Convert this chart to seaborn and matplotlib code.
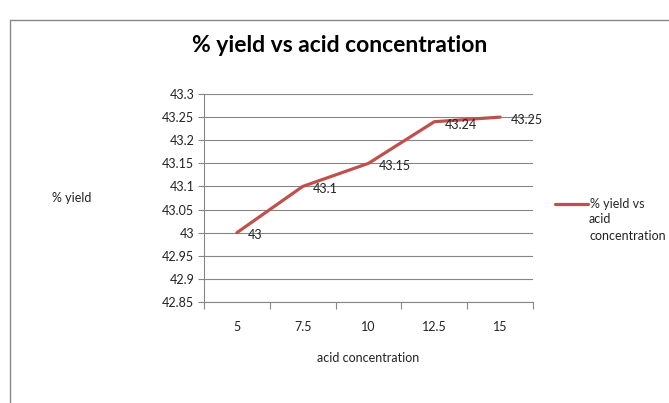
import numpy as np
import pandas as pd
import matplotlib.pyplot as plt
from matplotlib.lines import Line2D
from matplotlib.ticker import FixedLocator
import seaborn as sns

# data
concentration = ["5", "7.5", "10", "12.5", "15"]
yield_pct = [43.0, 43.1, 43.15, 43.24, 43.25]
point_labels = ["43", "43.1", "43.15", "43.24", "43.25"]
y_ticks = [42.85, 42.9, 42.95, 43.0, 43.05, 43.1, 43.15, 43.2, 43.25, 43.3]
y_tick_labels = ["42.85", "42.9", "42.95", "43", "43.05", "43.1", "43.15", "43.2", "43.25", "43.3"]

sns.set_theme(style="white")
plt.rcParams['font.family'] = ['Lato', 'DejaVu Sans']

df = pd.DataFrame({"pos": np.arange(len(concentration)), "yield": yield_pct})

W, H = 669, 403
fig = plt.figure(figsize=(W / 100, H / 100), dpi=100)
fig.patch.set_facecolor("white")

# plot area in pixel coords: x 204..533, y 94..302
ax = fig.add_axes([204 / W, 1 - 302 / H, (533 - 204) / W, (302 - 94) / H])

line_color = "#C0504D"
txt_color = "#222222"
fs = 9
sns.lineplot(data=df, x="pos", y="yield", color=line_color, linewidth=2.3, ax=ax, legend=False)

for i in range(len(concentration)):
    ax.annotate(point_labels[i], (df["pos"][i], df["yield"][i]), xytext=(7.5, -2),
                textcoords="offset points", ha="left", va="center", fontsize=fs, color=txt_color)

ax.set_xlim(-0.5, len(concentration) - 0.5)
ax.set_ylim(42.85, 43.3)
ax.set_yticks(y_ticks)
ax.set_yticklabels(y_tick_labels)
ax.set_xticks(np.arange(len(concentration)))
ax.set_xticklabels(concentration)
ax.xaxis.set_minor_locator(FixedLocator(np.arange(len(concentration) + 1) - 0.5))
ax.tick_params(axis="x", which="major", length=0, pad=14, labelsize=fs, colors=txt_color)
ax.tick_params(axis="x", which="minor", length=5, width=0.8, color="#868686", direction="out", bottom=True)
ax.tick_params(axis="y", length=4, width=0.8, color="#868686", direction="out", left=True,
               labelsize=fs, labelcolor=txt_color, pad=3)

ax.grid(True, axis="y", color="#868686", linewidth=0.8)
ax.set_axisbelow(True)
for s in ["top", "right"]:
    ax.spines[s].set_visible(False)
for s in ["left", "bottom"]:
    ax.spines[s].set_color("#868686")
    ax.spines[s].set_linewidth(0.8)

ax.set_xlabel("")
ax.set_ylabel("")
fig.text(340 / W, 1 - 46 / H, "% yield vs acid concentration", ha="center", va="center",
         fontsize=16.5, fontweight="bold", color="black")
fig.text(72 / W, 1 - 198 / H, "% yield", ha="center", va="center", fontsize=fs, color=txt_color)
fig.text(368 / W, 1 - 358 / H, "acid concentration", ha="center", va="center", fontsize=fs, color=txt_color)

# legend at right: handle sits on the first text line, rest wraps below
handle = Line2D([], [], color=line_color, linewidth=2.3)
fig.legend([handle], ["% yield vs"], loc="center left",
           bbox_to_anchor=(549 / W, 1 - 204 / H), frameon=False, fontsize=fs,
           handlelength=2.6, handletextpad=0.15, borderpad=0)
fig.text(589 / W, 1 - 213 / H, "acid\nconcentration", ha="left", va="top",
         fontsize=fs, color=txt_color, linespacing=1.55)

# outer chart border
fig.add_artist(Line2D([10 / W, 10 / W], [0, 1 - 20 / H], transform=fig.transFigure, color="#888888", linewidth=1))
fig.add_artist(Line2D([10 / W, 1], [1 - 20 / H, 1 - 20 / H], transform=fig.transFigure, color="#888888", linewidth=1))

fig.savefig("out.png", dpi=100)
